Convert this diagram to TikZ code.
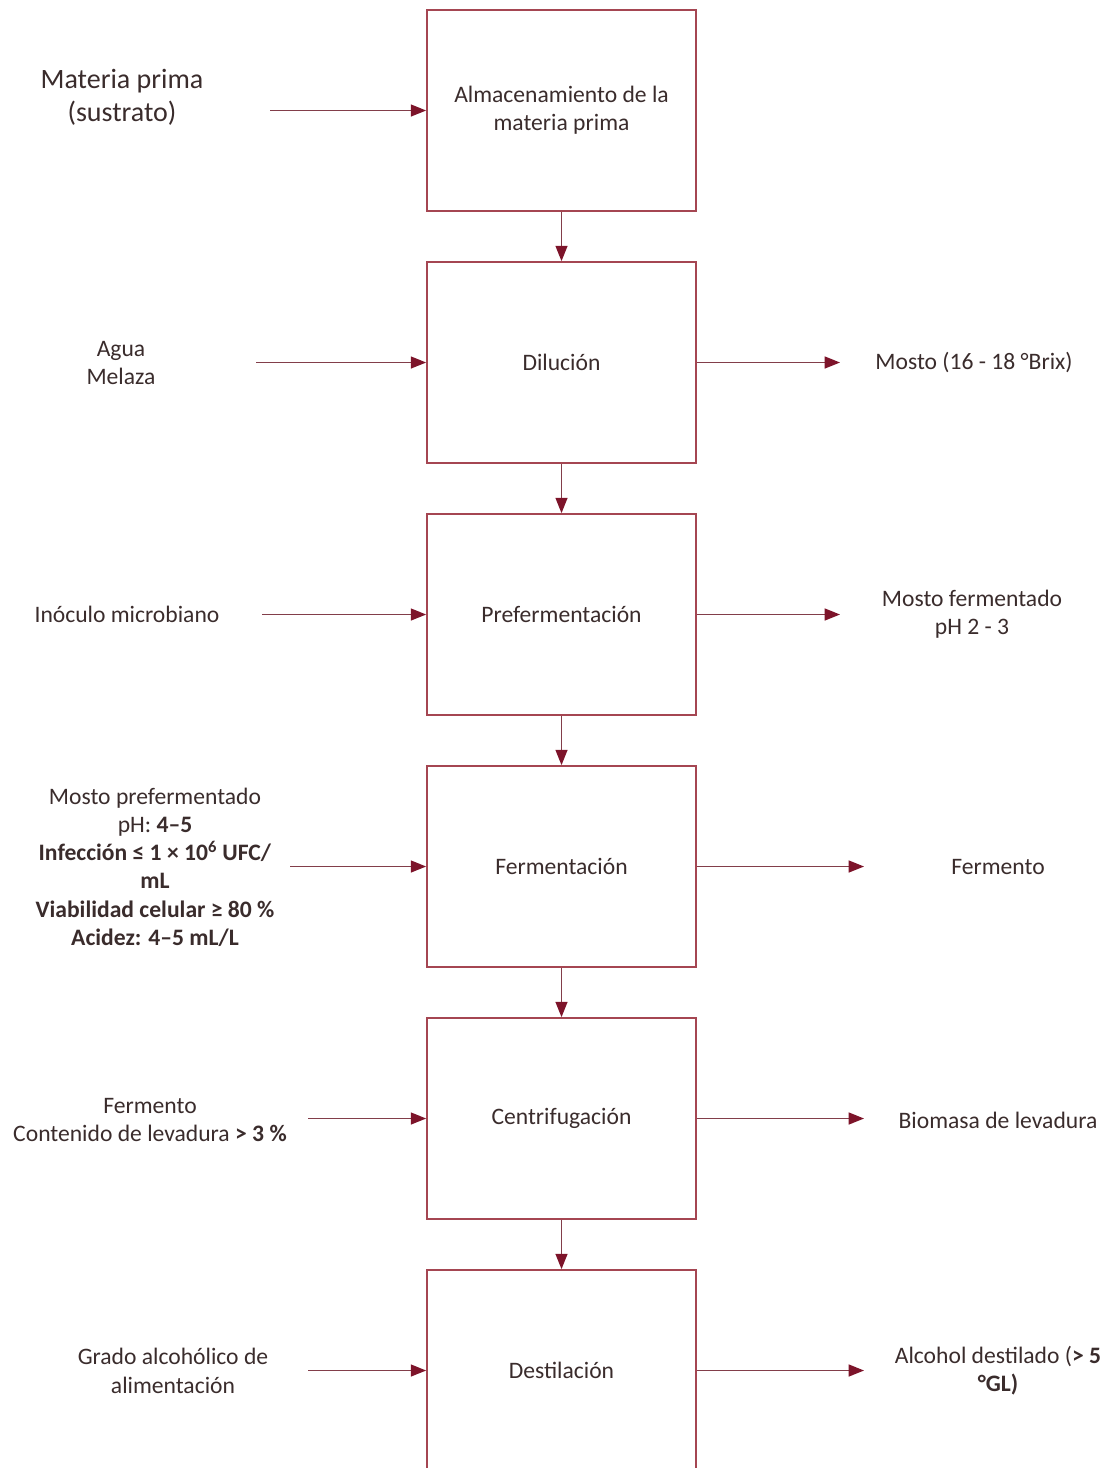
\documentclass[tikz,border=0pt]{standalone}
\usepackage{fontspec}
\setmainfont{Carlito}
\usetikzlibrary{arrows.meta}
\definecolor{bordeetapa}{RGB}{165,70,82}
\definecolor{lineaflecha}{RGB}{130,62,74}
\definecolor{rojoflecha}{RGB}{125,20,42}
\definecolor{textogris}{RGB}{58,44,44}

\begin{document}
\begin{tikzpicture}[x=0.75pt, y=-0.75pt,
    every node/.style={font=\fontsize{17.7}{21.2}\selectfont, text=textogris, align=center},
    etapa/.style={draw=bordeetapa, line width=1.3pt, minimum width=201.75pt, minimum height=150.75pt, inner sep=0pt},
    flecha/.style={draw=lineaflecha, line width=1pt, -{Triangle[length=11.5pt, width=9pt, color=rojoflecha]}}]
    \useasboundingbox (0,0) rectangle (1110,1468);

    % Etapas del proceso
    \foreach \n/\y/\t in {almac/110.5/{Almacenamiento de la\\materia prima}, dilucion/362.5/Dilución,
        prefer/614.5/Prefermentación, ferment/866.5/Fermentación, centrif/1118.5/Centrifugación,
        destil/1370.5/Destilación} {
        \node[etapa] (\n) at (561.5,\y) {\t};
    }

    % Flechas entre etapas
    \foreach \a/\b in {almac/dilucion, dilucion/prefer, prefer/ferment, ferment/centrif, centrif/destil}
        \draw[flecha] (\a) -- (\b);

    % Entradas
    \node (matprima) at (122,97) [font=\fontsize{21}{24.8}\selectfont] {Materia prima\\(sustrato)};
    \node (agua) at (121,363) {Agua\\Melaza};
    \node (inoculo) at (127,614) {Inóculo microbiano};
    \node (mostopre) at (155,867) {Mosto prefermentado\\pH: \textbf{4–5}\\\textbf{Infección ≤ 1 × 10\textsuperscript{6} UFC/}\\\textbf{mL}\\\textbf{Viabilidad celular ≥ 80 \%}\\\textbf{Acidez: 4–5 mL/L}};
    \node (fermentoin) at (150,1120) {Fermento\\Contenido de levadura \textbf{> 3 \%}};
    \node (grado) at (173,1371) {Grado alcohólico de\\alimentación};

    % Flechas de entrada
    \foreach \n/\xs in {almac/270, dilucion/256, prefer/262, ferment/290, centrif/308, destil/308} {
        \coordinate (ent-\n) at (\n.west -| \xs,0);
        \draw[flecha] (ent-\n) -- (\n.west);
    }

    % Salidas
    \node (mosto) at (974,362) {Mosto (16 - 18 °Brix)};
    \node (mostofer) at (972,614) {Mosto fermentado\\pH 2 - 3};
    \node (fermentoout) at (998,867) {Fermento};
    \node (biomasa) at (998,1120) {Biomasa de levadura};
    \node (alcohol) at (998,1371) {Alcohol destilado (\textbf{> 5}\\\textbf{°GL)}};

    % Flechas de salida
    \foreach \n/\xe in {dilucion/840, prefer/840, ferment/864, centrif/864, destil/864} {
        \coordinate (sal-\n) at (\n.east -| \xe,0);
        \draw[flecha] (\n.east) -- (sal-\n);
    }
\end{tikzpicture}
\end{document}
